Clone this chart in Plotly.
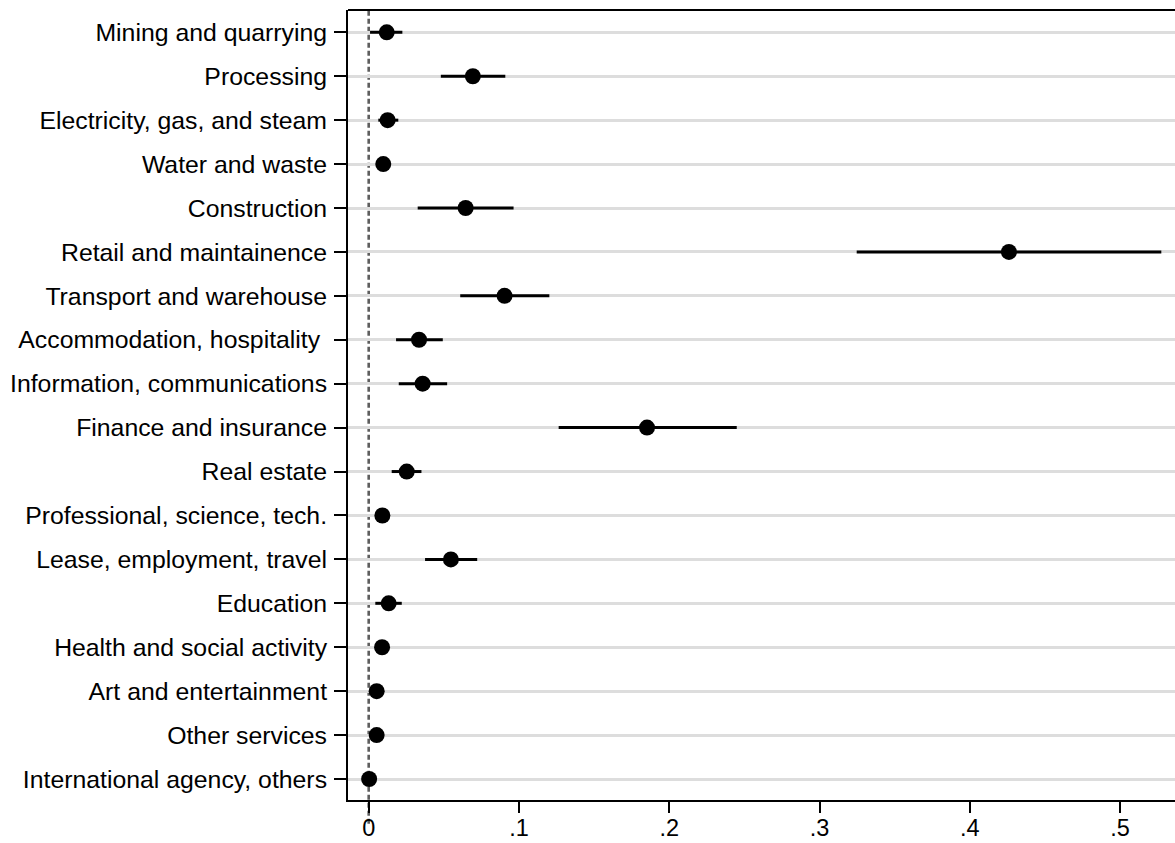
import plotly.graph_objects as go

categories = ["Mining and quarrying", "Processing", "Electricity, gas, and steam",
              "Water and waste", "Construction", "Retail and maintainence",
              "Transport and warehouse", "Accommodation, hospitality ",
              "Information, communications", "Finance and insurance", "Real estate",
              "Professional, science, tech.", "Lease, employment, travel", "Education",
              "Health and social activity", "Art and entertainment", "Other services",
              "International agency, others"]
estimate = [0.0120, 0.0693, 0.0126, 0.0097, 0.0645, 0.4260, 0.0904, 0.0335, 0.0359,
            0.1852, 0.0253, 0.0091, 0.0547, 0.0133, 0.0089, 0.0053, 0.0053, 0.0003]
ci_low = [0.0009, 0.0480, 0.0064, 0.0075, 0.0326, 0.3247, 0.0609, 0.0182, 0.0200,
          0.1264, 0.0153, 0.0070, 0.0375, 0.0044, 0.0070, 0.0040, 0.0040, 0.0000]
ci_high = [0.0224, 0.0909, 0.0197, 0.0119, 0.0964, 0.5274, 0.1202, 0.0493, 0.0522,
           0.2449, 0.0351, 0.0112, 0.0722, 0.0220, 0.0108, 0.0066, 0.0066, 0.0006]
x_tickvals = [0, 0.1, 0.2, 0.3, 0.4, 0.5]
x_ticktext = ["0", ".1", ".2", ".3", ".4", ".5"]

ypos = list(range(len(categories)))
err_plus = [h - e for h, e in zip(ci_high, estimate)]
err_minus = [e - l for e, l in zip(estimate, ci_low)]

FONT = "Liberation Sans, Arial, sans-serif"
FSIZE = 24.8

fig = go.Figure()
fig.add_trace(go.Scatter(
    x=estimate, y=ypos, mode="markers",
    marker=dict(color="black", size=16, symbol="circle"),
    error_x=dict(type="data", array=err_plus, arrayminus=err_minus,
                 color="black", thickness=3, width=0),
    showlegend=False,
))

# reference line at zero
fig.add_shape(type="line", xref="x", yref="paper", x0=0, x1=0, y0=-0.03, y1=1,
              line=dict(color="#5e5e5e", width=2.6, dash="5px,3px"), layer="below")
# top frame line
fig.add_shape(type="line", xref="paper", yref="paper", x0=0, x1=1, y0=1, y1=1,
              line=dict(color="black", width=2))

fig.update_layout(
    width=1175, height=843,
    margin=dict(l=348, r=0, t=10, b=43),
    plot_bgcolor="white", paper_bgcolor="white",
    font=dict(family=FONT, size=FSIZE, color="black"),
)
fig.update_xaxes(
    range=[-0.01377, 0.5365], tickvals=x_tickvals, ticktext=x_ticktext,
    showgrid=False, zeroline=False, showline=True, linecolor="black", linewidth=2,
    ticks="outside", ticklen=11, tickwidth=1.8, tickcolor="black",
    ticklabelstandoff=-5, automargin=False,
    tickfont=dict(family=FONT, size=23.5, color="black"),
)
fig.update_yaxes(
    range=[17.478, -0.508], tickvals=ypos, ticktext=categories,
    showgrid=True, gridcolor="#dddddd", gridwidth=2.5, zeroline=False,
    showline=True, linecolor="black", linewidth=2,
    ticks="outside", ticklen=12, tickwidth=1.8, tickcolor="black",
    ticklabelstandoff=2, automargin=False,
    tickfont=dict(family=FONT, size=FSIZE, color="black"),
)

fig.write_html("out.html")
